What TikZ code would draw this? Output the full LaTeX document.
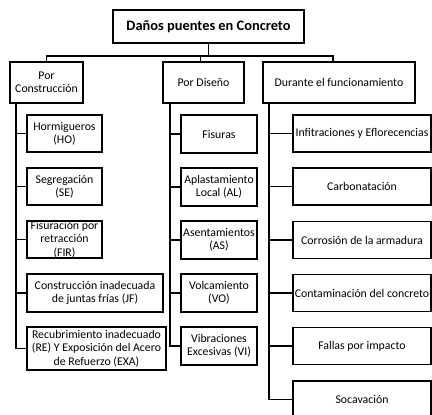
\documentclass[tikz,border=0pt]{standalone}
\usepackage{fontspec}
\setmainfont{Carlito}

\begin{document}
\begin{tikzpicture}[x=1pt,y=1pt,yscale=-1,xscale=1,
	box/.style={draw,line width=1.8pt,inner sep=0pt,align=center,font=\fontsize{11.8}{13.4}\selectfont},
	link/.style={line width=1.8pt}]

	\useasboundingbox (0,0) rectangle (432,415);
	\clip (0,0) rectangle (432,415);

	\node [box,minimum width=191pt,minimum height=33pt,font=\fontsize{14.4}{16}\selectfont\bfseries] (root) at (208.5,26.5) {Daños puentes en Concreto};

	\node [box,minimum width=73pt,minimum height=41pt] (constr) at (46.5,82.5) {Por\\Construcción};
	\node [box,minimum width=81pt,minimum height=41pt] (diseno) at (203.5,82.5) {Por Diseño};
	\node [box,minimum width=152pt,minimum height=41pt] (durante) at (339,82.5) {Durante el funcionamiento};

	\node [box,minimum width=75pt,minimum height=37pt] (ho) at (64.5,133.5) {Hormigueros\\(HO)};
	\node [box,minimum width=75pt,minimum height=37pt] (se) at (64.5,186.5) {Segregación\\(SE)};
	\node [box,minimum width=75pt,minimum height=37pt] (fir) at (64.5,239.5) {Fisuración por\\retracción\\(FIR)};
	\node [box,minimum width=136pt,minimum height=38pt] (jf) at (95,293) {Construcción inadecuada\\de juntas frías (JF)};
	\node [box,minimum width=139pt,minimum height=43pt] (rea) at (96.5,348.5) {Recubrimiento inadecuado\\(RE) Y Exposición del Acero\\de Refuerzo (EXA)};

	\node [box,minimum width=76pt,minimum height=38pt] (fis) at (219,134) {Fisuras};
	\node [box,minimum width=76pt,minimum height=38pt] (al) at (219,187) {Aplastamiento\\Local (AL)};
	\node [box,minimum width=76pt,minimum height=38pt] (as) at (219,240) {Asentamientos\\(AS)};
	\node [box,minimum width=76pt,minimum height=38pt] (vo) at (219,293) {Volcamiento\\(VO)};
	\node [box,minimum width=76pt,minimum height=38pt] (vi) at (219,346) {Vibraciones\\Excesivas (VI)};

	\node [box,minimum width=138pt,minimum height=37pt] (inf) at (362,133.5) {Infitraciones y Eflorecencias};
	\node [box,minimum width=138pt,minimum height=37pt] (carb) at (362,186.5) {Carbonatación};
	\node [box,minimum width=138pt,minimum height=37pt] (corr) at (362,240) {Corrosión de la armadura};
	\node [box,minimum width=138pt,minimum height=37pt] (cont) at (362,293) {Contaminación del concreto};
	\node [box,minimum width=138pt,minimum height=37pt] (fall) at (362,346) {Fallas por impacto};
	\node [box,minimum width=138pt,minimum height=37pt] (soc) at (362,399.5) {Socavación};

	\draw [link] (root.south) -- ++(0,12) coordinate (rj);
	\draw [link] (constr.north) |- (rj) -| ([xshift=-6pt]durante.north);
	\coordinate (dn) at ([xshift=-3pt]diseno.north);
	\draw [link] (rj -| dn) -- (dn);

	\coordinate (sc) at ([xshift=7pt]constr.south west);
	\coordinate (sd) at ([xshift=8pt]diseno.south west);
	\coordinate (sf) at ([xshift=7pt]durante.south west);

	\draw [link] (sc) |- (rea.west);
	\foreach \n in {ho,se,fir,jf} \draw [link] (sc |- \n.west) -- (\n.west);

	\draw [link] (sd) |- (vi.west);
	\foreach \n in {fis,al,as,vo} \draw [link] (sd |- \n.west) -- (\n.west);

	\draw [link] (sf) |- (soc.west);
	\foreach \n in {inf,carb,corr,cont,fall} \draw [link] (sf |- \n.west) -- (\n.west);
\end{tikzpicture}
\end{document}
